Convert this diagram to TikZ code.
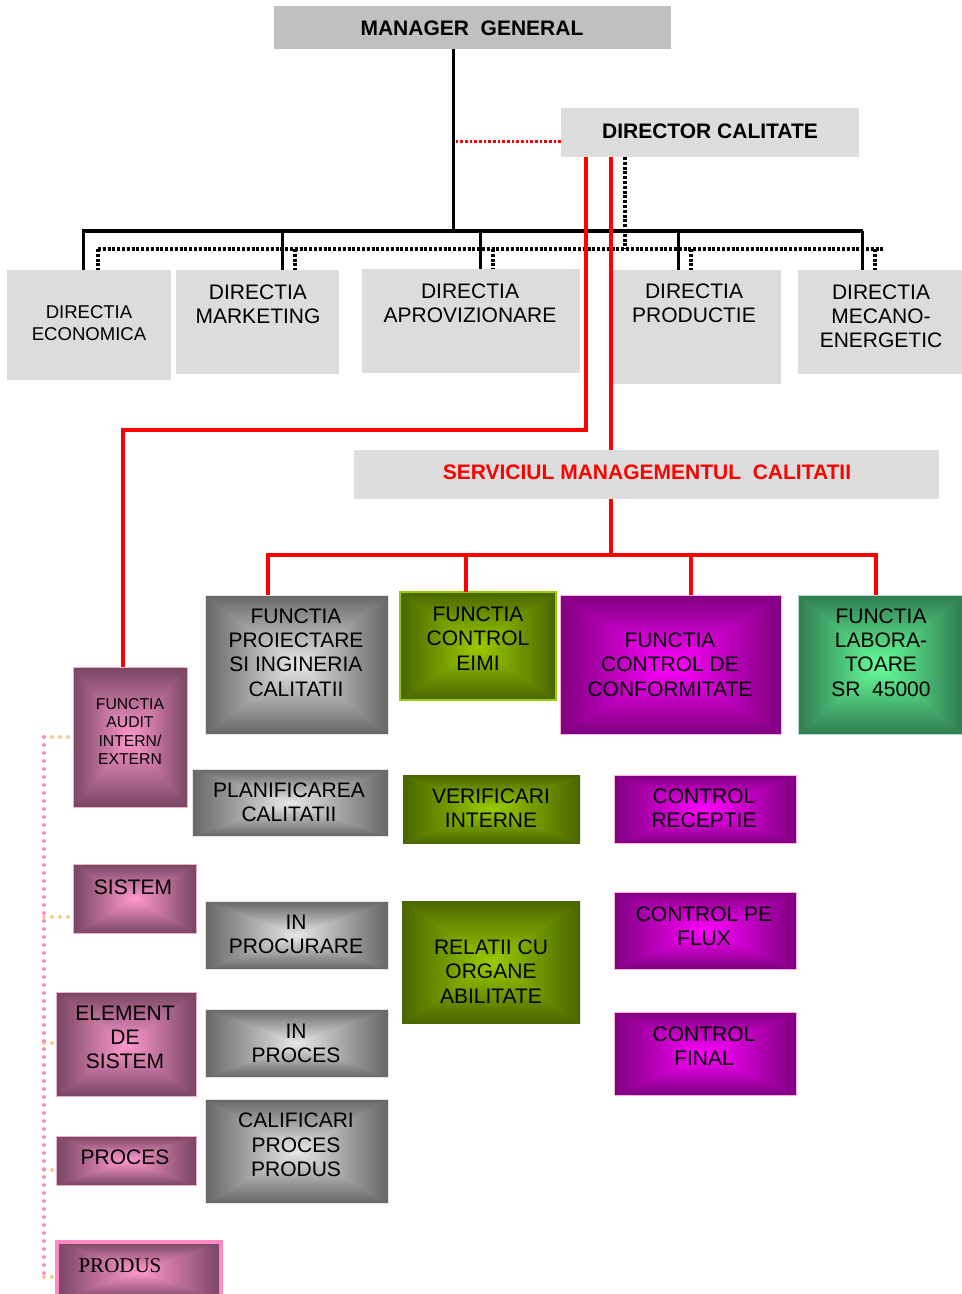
\documentclass[tikz,border=0pt]{standalone}
\usepackage{fontspec}
\setmainfont{Liberation Sans}
\newfontfamily\serifface{Liberation Serif}
\usetikzlibrary{patterns}

\definecolor{mgfill}{HTML}{C0C0C0}
\definecolor{boxfill}{HTML}{DDDDDD}
\definecolor{dirfill}{HTML}{DCDCDC}
\definecolor{linered}{HTML}{FF0000}
\definecolor{linkpink}{HTML}{FF88C4}
\definecolor{linkpeach}{HTML}{FFC488}
\definecolor{eimiedge}{HTML}{99CC00}

% rectangular gradient: light centre (#2 #3 #4), dark rim (#5 #6 #7)
\newcommand\rectgradient[7]{%
  \pgfdeclarefunctionalshading{#1}{\pgfpoint{0bp}{0bp}}{\pgfpoint{100bp}{100bp}}{}{%
    50 sub abs exch 50 sub abs 2 copy lt {exch} if pop
    25 div dup 1 gt {pop 1} if
    dup #5 #2 sub mul #2 add exch
    dup #6 #3 sub mul #3 add exch
    #7 #4 sub mul #4 add
  }}
\rectgradient{graygrad}{0.91}{0.91}{0.91}{0.40}{0.40}{0.40}
\rectgradient{greengrad}{0.60}{0.80}{0.00}{0.29}{0.40}{0.00}
\rectgradient{magentagrad}{1.00}{0.00}{1.00}{0.50}{0.00}{0.50}
\rectgradient{seagrad}{0.40}{1.00}{0.60}{0.19}{0.49}{0.32}
\rectgradient{pinkgrad}{1.00}{0.60}{0.80}{0.47}{0.27}{0.39}

\tikzset{
  boxbase/.style={rectangle, inner sep=0pt, outer sep=0pt, anchor=north west},
  graybox/.style={shade, shading=graygrad, draw=white!80!gray, line width=0.5pt},
  greenbox/.style={shade, shading=greengrad},
  magbox/.style={shade, shading=magentagrad, draw=white!70!magenta, line width=0.5pt},
  seabox/.style={shade, shading=seagrad, draw=white!70!teal, line width=0.5pt},
  pinkbox/.style={shade, shading=pinkgrad, draw=white!70!purple, line width=0.5pt},
  txt/.style={align=center, inner sep=0pt, font=\fontsize{15.75}{18.2}\selectfont},
  boldtxt/.style={txt, font=\fontsize{15.75}{18.2}\selectfont\bfseries},
  blk/.style={line width=2.25pt, black},
  blkbar/.style={line width=3pt, black},
  blkdot/.style={line width=2.4pt, black, dash pattern=on 2.2pt off 1.4pt},
  redln/.style={line width=2.4pt, linered},
  reddot/.style={line width=2.25pt, linered, dash pattern=on 2pt off 1.5pt},
  pinkdots/.style={line width=2.8pt, linkpink, line cap=round, dash pattern=on 0.05pt off 5.95pt},
  peachdots/.style={line width=2.8pt, linkpeach, line cap=round, dash pattern=on 0.05pt off 5.95pt},
}

% box from its corners given in picture units
\newcommand\orgbox[6]{%
  \node[boxbase, minimum width={(#4-#2)*0.75pt}, minimum height={(#5-#3)*0.75pt}, #6] (#1) at (#2,#3) {};}

\begin{document}
\begin{tikzpicture}[x=0.75pt, y=-0.75pt]
\useasboundingbox (0,0) rectangle (962,1294);

% ---------- top management ----------
\orgbox{mg}{274}{6}{671}{49}{fill=mgfill}
\orgbox{dc}{561}{108}{859}{157}{fill=boxfill}
\node[boldtxt] (mgT) at (472,28) {MANAGER\ \ GENERAL};
\node[boldtxt] (dcT) at (710,131) {DIRECTOR CALITATE};

% ---------- directions ----------
\orgbox{ec}{7}{270}{171}{380}{fill=dirfill}
\orgbox{mk}{176}{270}{339}{374}{fill=dirfill}
\fill[pattern=dots, pattern color=white!93!black] (mk.north west) rectangle (mk.south east);
\orgbox{ap}{362}{269}{580}{373}{fill=dirfill}
\orgbox{pd}{609}{270}{781}{384}{fill=dirfill}
\orgbox{me}{798}{270}{962}{374}{fill=dirfill}

\node[txt, font=\fontsize{13.9}{16.5}\selectfont] (ecT) at (89,323) {DIRECTIA\\ECONOMICA};
\node[txt] (mkT) at (258,304) {DIRECTIA\\MARKETING};
\node[txt] (apT) at (470,303.5) {DIRECTIA\\APROVIZIONARE};
\node[txt] (pdT) at (694,303.5) {DIRECTIA\\PRODUCTIE};
\node[txt] (meT) at (881,316.5) {DIRECTIA\\MECANO-\\ENERGETIC};

% ---------- quality service ----------
\orgbox{smc}{354}{450}{939}{499}{fill=boxfill}
\node[boldtxt, text=linered] (smcT) at (647,472) {SERVICIUL MANAGEMENTUL\ \ CALITATII};

% ---------- functions ----------
\orgbox{pr}{205}{595}{388}{734}{graybox}
\orgbox{ei}{400}{592}{556}{700}{greenbox, draw=eimiedge, line width=1pt}
\orgbox{cf}{560}{595}{781}{734}{magbox}
\orgbox{lab}{798}{595}{962}{734}{seabox}
\orgbox{au}{73}{667}{187}{807}{pinkbox}

\node[txt] (prT) at (296,652.5) {FUNCTIA\\PROIECTARE\\SI INGINERIA\\CALITATII};
\node[txt] (eiT) at (478,638.5) {FUNCTIA\\CONTROL\\EIMI};
\node[txt] (cfT) at (670,664.5) {FUNCTIA\\CONTROL DE\\CONFORMITATE};
\node[txt] (labT) at (881,652.5) {FUNCTIA\\LABORA-\\TOARE\\SR\ \ 45000};
\node[txt, font=\fontsize{11.8}{13.7}\selectfont] (auT) at (130,731.5) {FUNCTIA\\AUDIT\\INTERN/\\EXTERN};

% ---------- sub-functions ----------
\orgbox{pl}{192}{769}{388}{836}{graybox}
\orgbox{vi}{403}{775}{580}{843}{greenbox}
\orgbox{cr}{614}{775}{796}{843}{magbox}
\orgbox{si}{73}{864}{196}{933}{pinkbox}
\orgbox{ip}{205}{901}{388}{969}{graybox}
\orgbox{ra}{402}{901}{580}{1023}{greenbox}
\orgbox{cpf}{614}{892}{796}{969}{magbox}
\orgbox{el}{56}{992}{196}{1096}{pinkbox}
\orgbox{ipr}{205}{1009}{388}{1077}{graybox}
\orgbox{cfin}{614}{1012}{796}{1095}{magbox}
\orgbox{ca}{205}{1099}{388}{1203}{graybox}
\orgbox{pc}{56}{1136}{196}{1185}{pinkbox}
\orgbox{po}{57}{1242}{221}{1300}{shade, shading=pinkgrad, draw=linkpink, line width=3pt}

\node[txt] (plT) at (289,802) {PLANIFICAREA\\CALITATII};
\node[txt] (viT) at (491,808.5) {VERIFICARI\\INTERNE};
\node[txt] (crT) at (704,808.5) {CONTROL\\RECEPTIE};
\node[txt] (siT) at (133,887) {SISTEM};
\node[txt] (ipT) at (296,934.5) {IN\\PROCURARE};
\node[txt] (raT) at (491,971.5) {RELATII CU\\ORGANE\\ABILITATE};
\node[txt] (cpfT) at (704,926) {CONTROL PE\\FLUX};
\node[txt] (elT) at (125,1037.5) {ELEMENT\\DE\\SISTEM};
\node[txt] (iprT) at (296,1043) {IN\\PROCES};
\node[txt] (cfinT) at (704,1046) {CONTROL\\FINAL};
\node[txt] (caT) at (296,1145) {CALIFICARI\\PROCES\\PRODUS};
\node[txt] (pcT) at (125,1157) {PROCES};
\node[txt, font=\fontsize{15.75}{18.2}\serifface] (poT) at (120,1266) {PRODUS};

% ---------- black hierarchy lines ----------
\coordinate (trunk) at (453,231);
\draw[blk] (mg.south -| trunk) -- (trunk);
\coordinate (barL) at (83,231);
\coordinate (barR) at (862,231);
\draw[blkbar] ([xshift=-1.1pt]barL) -- ([xshift=1.1pt]barR);
\coordinate (s1) at (83,231);
\coordinate (s2) at (282,231);
\coordinate (s3) at (480,231);
\coordinate (s4) at (678,231);
\coordinate (s5) at (862,231);
\draw[blk] (s1) -- (s1 |- ec.north);
\draw[blk] (s2) -- (s2 |- mk.north);
\draw[blk] (s3) -- (s3 |- ap.north);
\draw[blk] (s4) -- (s4 |- pd.north);
\draw[blk] (s5) -- (s5 |- me.north);

% dotted functional links from the quality director
\coordinate (dotL) at (98,249);
\coordinate (dotR) at (884,249);
\coordinate (dcdot) at (625,249);
\draw[blkdot] (dotL) -- (dotR);
\draw[blkdot] (dc.south -| dcdot) -- (dcdot);
\coordinate (t1) at (98,249);
\coordinate (t2) at (295,249);
\coordinate (t3) at (493,249);
\coordinate (t4) at (691,249);
\coordinate (t5) at (875,249);
\draw[blkdot] (t1) -- (t1 |- ec.north);
\draw[blkdot] (t2) -- (t2 |- mk.north);
\draw[blkdot] (t3) -- (t3 |- ap.north);
\draw[blkdot] (t4) -- (t4 |- pd.north);
\draw[blkdot] (t5) -- (t5 |- me.north);

% ---------- red quality lines ----------
\coordinate (rd) at (455,142);
\draw[reddot] (rd -| dc.west) -- (rd);
\coordinate (ra1) at (586,430);
\coordinate (ra2) at (123,430);
\draw[redln] (dc.south -| ra1) -- (ra1) -- (ra2) -- (ra2 |- au.north);
\coordinate (rb) at (611,500);
\draw[redln] (dc.south -| rb) -- (rb |- smc.north);
\coordinate (rh) at (611,555);
\draw[redln] (smc.south -| rh) -- (rh);
\coordinate (rhL) at (268,555);
\coordinate (rhR) at (876,555);
\draw[redln] (rhL |- pr.north) -- (rhL) -- (rhR) -- (rhR |- lab.north);
\coordinate (rh2) at (466,555);
\coordinate (rh3) at (691,555);
\draw[redln] (rh2) -- (rh2 |- ei.north);
\draw[redln] (rh3) -- (rh3 |- cf.north);

% ---------- audit scope links ----------
\coordinate (pv1) at (44,737);
\coordinate (pv2) at (44,1280);
\coordinate (pa) at (44,737);
\coordinate (ps) at (44,917);
\coordinate (pe) at (44,1043);
\coordinate (pp) at (44,1170);
\coordinate (pq) at (44,1277);
\draw[peachdots] (pa) -- (pa -| au.west);
\draw[peachdots] (ps) -- (ps -| si.west);
\draw[peachdots] (pe) -- (pe -| el.west);
\draw[peachdots] (pp) -- (pp -| pc.west);
\draw[peachdots] (pq) -- (pq -| po.west);
\draw[pinkdots] (pv1) -- (pv2);
\end{tikzpicture}
\end{document}
